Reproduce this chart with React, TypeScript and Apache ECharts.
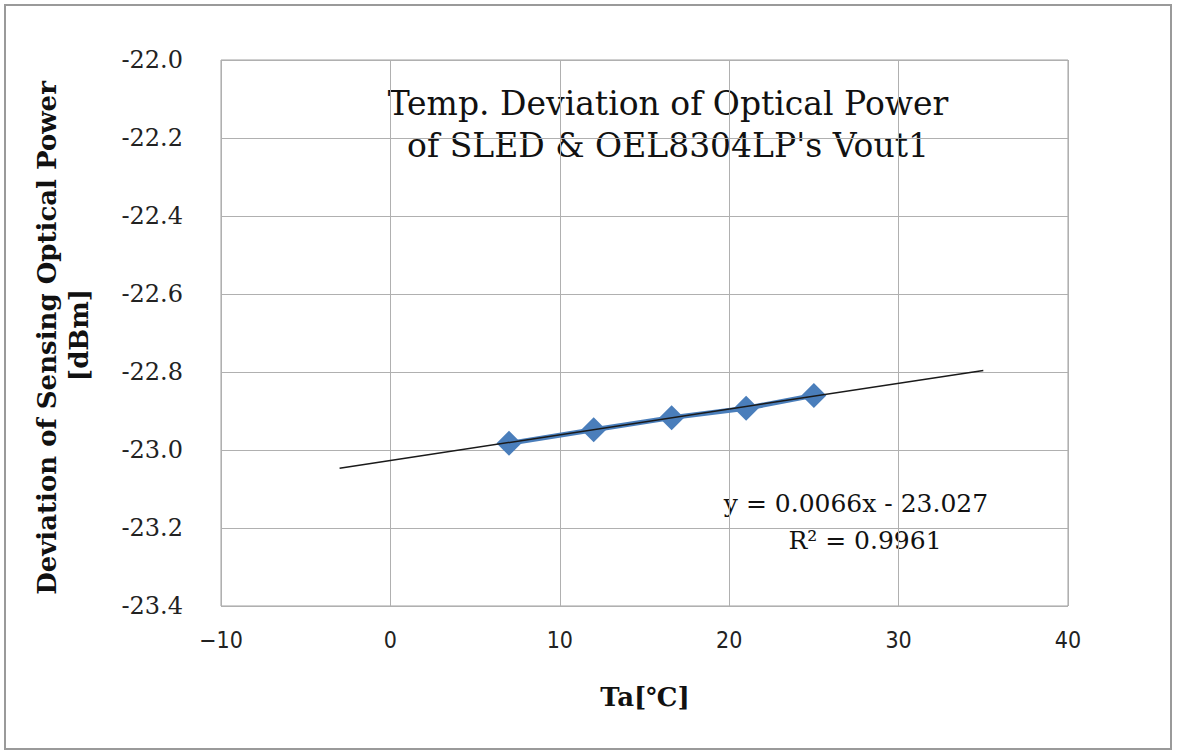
import React, { useEffect, useRef } from "react";
import * as echarts from "echarts";

const temps = [7, 12, 16.6, 21, 25];
const power = [-22.983, -22.948, -22.917, -22.893, -22.86];
const trendX = [-3, 35];
const slope = 0.0066;
const intercept = -23.027;
const xTicks = [-10, 0, 10, 20, 30, 40];
const yTicks = [-22.0, -22.2, -22.4, -22.6, -22.8, -23.0, -23.2, -23.4];
const titleLines = ["Temp. Deviation of Optical Power", "of SLED & OEL8304LP's Vout1"];
const eqLines = ["y = 0.0066x - 23.027", "R² = 0.9961"];

const SERIF = "'DejaVu Serif', 'Liberation Serif', serif";

export default function App() {
  const ref = useRef<HTMLDivElement>(null);
  useEffect(() => {
    if (!ref.current) return;
    const chart = echarts.init(ref.current, undefined, { renderer: "svg" });
    const trend = trendX.map((x) => [x, +(slope * x + intercept).toFixed(4)]);
    const txt = (x: number, y: number, text: string, font: string, extra: any = {}) => ({
      type: "text",
      x,
      y,
      ...extra,
      style: { text, font, fill: "#111", textAlign: "center", textVerticalAlign: "middle" },
    });
    chart.setOption({
      animation: false,
      backgroundColor: "#ffffff",
      grid: {
        left: 221,
        right: 109,
        top: 60,
        bottom: 150,
        show: true,
        borderColor: "#a0a0a0",
        borderWidth: 1,
      },
      xAxis: {
        type: "value",
        min: xTicks[0],
        max: xTicks[xTicks.length - 1],
        interval: 10,
        axisLine: { show: false },
        axisTick: { show: false },
        splitLine: { show: true, lineStyle: { color: "#b0b0b0", width: 1 } },
        axisLabel: {
          margin: 22,
          fontSize: 23,
          color: "#222",
          fontFamily: "'Liberation Sans Narrow', 'DejaVu Sans Condensed', 'Liberation Sans', sans-serif",
          formatter: (v: number) => (v < 0 ? "\u2212" + Math.abs(v) : String(v)),
        },
      },
      yAxis: {
        type: "value",
        min: yTicks[yTicks.length - 1],
        max: yTicks[0],
        interval: 0.2,
        axisLine: { show: false },
        axisTick: { show: false },
        splitLine: { show: true, lineStyle: { color: "#b0b0b0", width: 1 } },
        axisLabel: {
          margin: 38,
          fontSize: 24,
          color: "#222",
          fontFamily: SERIF,
          formatter: (v: number) => v.toFixed(1),
        },
      },
      series: [
        {
          type: "line",
          data: temps.map((t, i) => [t, power[i]]),
          symbol: "diamond",
          symbolSize: 25,
          itemStyle: { color: "#4a7ebb" },
          lineStyle: { color: "#4a7ebb", width: 5 },
          z: 2,
        },
        {
          type: "line",
          data: trend,
          symbol: "none",
          lineStyle: { color: "#1a1a1a", width: 1.5 },
          z: 3,
        },
      ],
      graphic: [
        {
          type: "rect",
          shape: { x: 5, y: 5, width: 1166, height: 744 },
          style: { fill: "none", stroke: "#9a9a9a", lineWidth: 2 },
          silent: true,
        },
        txt(668, 103, titleLines[0], `33px ${SERIF}`),
        txt(668, 145, titleLines[1], `33px ${SERIF}`),
        txt(856, 503, eqLines[0], `25px ${SERIF}`),
        txt(865, 540, eqLines[1], `25px ${SERIF}`),
        txt(47, 338, "Deviation of Sensing Optical Power", `bold 26px ${SERIF}`, { rotation: Math.PI / 2 }),
        txt(79, 335, "[dBm]", `bold 26px ${SERIF}`, { rotation: Math.PI / 2 }),
        txt(645, 697, "Ta[℃]", `bold 26px ${SERIF}`),
      ],
    });
    return () => chart.dispose();
  }, []);
  return (
    <div
      ref={ref}
      style={{ position: "fixed", left: 0, top: 0, width: 1177, height: 756, background: "#fff" }}
    />
  );
}
